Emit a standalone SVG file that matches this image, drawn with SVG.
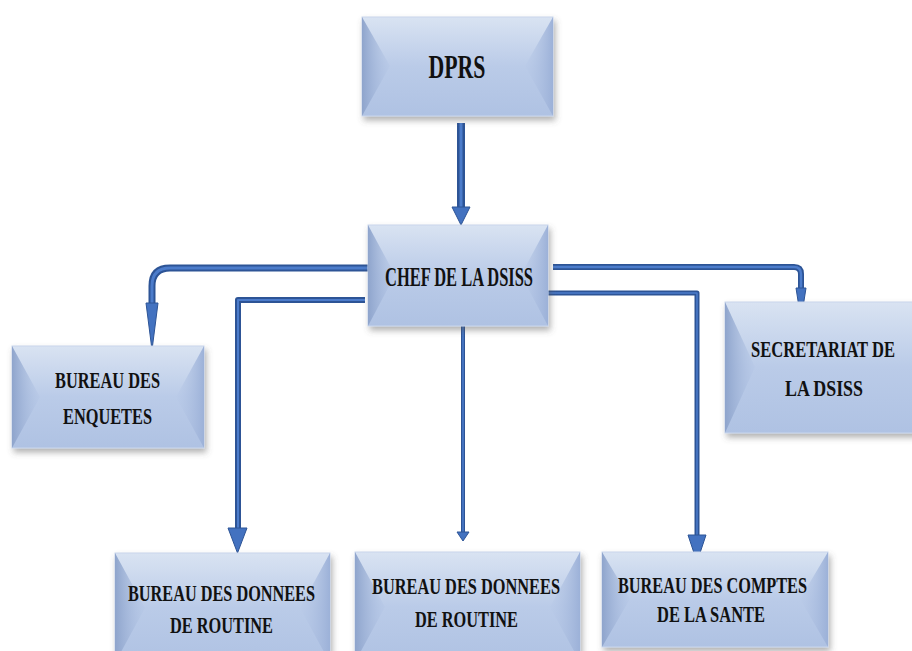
<svg xmlns="http://www.w3.org/2000/svg" width="912" height="651" viewBox="0 0 912 651">
<defs>
<linearGradient id="face" x1="0" y1="0" x2="0" y2="1">
<stop offset="0" stop-color="#D9E3F2"/>
<stop offset="0.5" stop-color="#BACBE8"/>
<stop offset="1" stop-color="#AFC2E3"/>
</linearGradient>
<linearGradient id="lside" x1="0" y1="0" x2="1" y2="0">
<stop offset="0" stop-color="#8EA4CC"/>
<stop offset="1" stop-color="#B3C5E5" stop-opacity="0.3"/>
</linearGradient>
<linearGradient id="rside" x1="1" y1="0" x2="0" y2="0">
<stop offset="0" stop-color="#9CB1D8"/>
<stop offset="1" stop-color="#B8C9E7" stop-opacity="0.3"/>
</linearGradient>
<filter id="sh" x="-10%" y="-10%" width="125%" height="130%">
<feDropShadow dx="2" dy="4" stdDeviation="3" flood-color="#555" flood-opacity="0.45"/>
</filter>
</defs>
<style>
.box{fill:url(#face);stroke:#C9D6EC;stroke-width:1}
.ls{fill:url(#lside)}
.rs{fill:url(#rside)}
.t{font-family:"Liberation Serif","Times New Roman",serif;font-weight:bold;fill:#111;text-anchor:middle}
.c-out{fill:none;stroke:#2D5496;stroke-linejoin:round}
.c-in{fill:none;stroke:#4C7CCB;stroke-linejoin:round}
.head{fill:#4372C0;stroke:#2D5496;stroke-width:1}
</style>

<g id="connectors">
<path class="c-out" stroke-width="8" d="M461,123 V209"/>
<path class="c-in" stroke-width="3" d="M461,123 V209"/>
<polygon class="head" points="452,207 470,207 461,225"/>

<path class="c-out" stroke-width="7" d="M368,268 H170 Q152,268 152,286 V306"/>
<path class="c-in" stroke-width="3" d="M368,268 H170 Q152,268 152,286 V306"/>
<polygon class="head" points="146,303 158,303 152,350"/>

<path class="c-out" stroke-width="6" d="M365,300 H238 V530"/>
<path class="c-in" stroke-width="2" d="M365,300 H238 V530"/>
<polygon class="head" points="228,528 247,528 237.5,553"/>

<path class="c-out" stroke-width="4" d="M463,326 V533"/>
<path class="c-in" stroke-width="1.5" d="M463,326 V533"/>
<polygon class="head" points="457,532 469,532 463,541"/>

<path class="c-out" stroke-width="6" d="M553,267 H794 Q801,267 801,274 V290"/>
<path class="c-in" stroke-width="2.5" d="M553,267 H794 Q801,267 801,274 V290"/>
<polygon class="head" points="796,288 806,288 801,320"/>

<path class="c-out" stroke-width="5" d="M548,293 H697 V537"/>
<path class="c-in" stroke-width="1.5" d="M548,293 H697 V537"/>
<polygon class="head" points="688,535 706,535 697,562"/>
</g>

<g id="dprs">
<rect class="box" x="362" y="17" width="191" height="99" filter="url(#sh)"/>
<polygon class="ls" points="362,17 390,66 362,116"/>
<polygon class="rs" points="553,17 525,66 553,116"/>
<text class="t" x="457" y="78" font-size="34" textLength="57" lengthAdjust="spacingAndGlyphs">DPRS</text>
</g>

<g id="chef">
<rect class="box" x="368" y="225" width="180" height="101" filter="url(#sh)"/>
<polygon class="ls" points="368,225 395,275 368,326"/>
<polygon class="rs" points="548,225 521,275 548,326"/>
<text class="t" x="459" y="286" font-size="28" textLength="148" lengthAdjust="spacingAndGlyphs">CHEF DE LA DSISS</text>
</g>

<g id="enquetes">
<rect class="box" x="12" y="346" width="192" height="102" filter="url(#sh)"/>
<polygon class="ls" points="12,346 40,397 12,448"/>
<polygon class="rs" points="204,346 176,397 204,448"/>
<text class="t" x="107.5" y="388" font-size="24" textLength="105" lengthAdjust="spacingAndGlyphs">BUREAU DES</text>
<text class="t" x="107.5" y="424" font-size="24" textLength="89" lengthAdjust="spacingAndGlyphs">ENQUETES</text>
</g>

<g id="secretariat">
<rect class="box" x="725" y="302" width="195" height="131" filter="url(#sh)"/>
<polygon class="ls" points="725,302 755,367 725,433"/>
<text class="t" x="823" y="357" font-size="24" textLength="144" lengthAdjust="spacingAndGlyphs">SECRETARIAT DE</text>
<text class="t" x="824" y="396" font-size="24" textLength="78" lengthAdjust="spacingAndGlyphs">LA DSISS</text>
</g>

<g id="donnees1">
<rect class="box" x="115" y="553" width="215" height="110" filter="url(#sh)"/>
<polygon class="ls" points="115,553 145,608 115,663"/>
<polygon class="rs" points="330,553 300,608 330,663"/>
<text class="t" x="221.5" y="601" font-size="24" textLength="187" lengthAdjust="spacingAndGlyphs">BUREAU DES DONNEES</text>
<text class="t" x="221.5" y="633" font-size="24" textLength="103" lengthAdjust="spacingAndGlyphs">DE ROUTINE</text>
</g>

<g id="donnees2">
<rect class="box" x="355" y="552" width="225" height="110" filter="url(#sh)"/>
<polygon class="ls" points="355,552 385,607 355,662"/>
<polygon class="rs" points="580,552 550,607 580,662"/>
<text class="t" x="466" y="594" font-size="24" textLength="188" lengthAdjust="spacingAndGlyphs">BUREAU DES DONNEES</text>
<text class="t" x="466.5" y="627" font-size="24" textLength="103" lengthAdjust="spacingAndGlyphs">DE ROUTINE</text>
</g>

<g id="comptes">
<rect class="box" x="602" y="552" width="226" height="95" filter="url(#sh)"/>
<polygon class="ls" points="602,552 630,599 602,647"/>
<polygon class="rs" points="828,552 800,599 828,647"/>
<text class="t" x="712.5" y="593" font-size="23" textLength="189" lengthAdjust="spacingAndGlyphs">BUREAU DES COMPTES</text>
<text class="t" x="711" y="622" font-size="23" textLength="108" lengthAdjust="spacingAndGlyphs">DE LA SANTE</text>
</g>
</svg>
